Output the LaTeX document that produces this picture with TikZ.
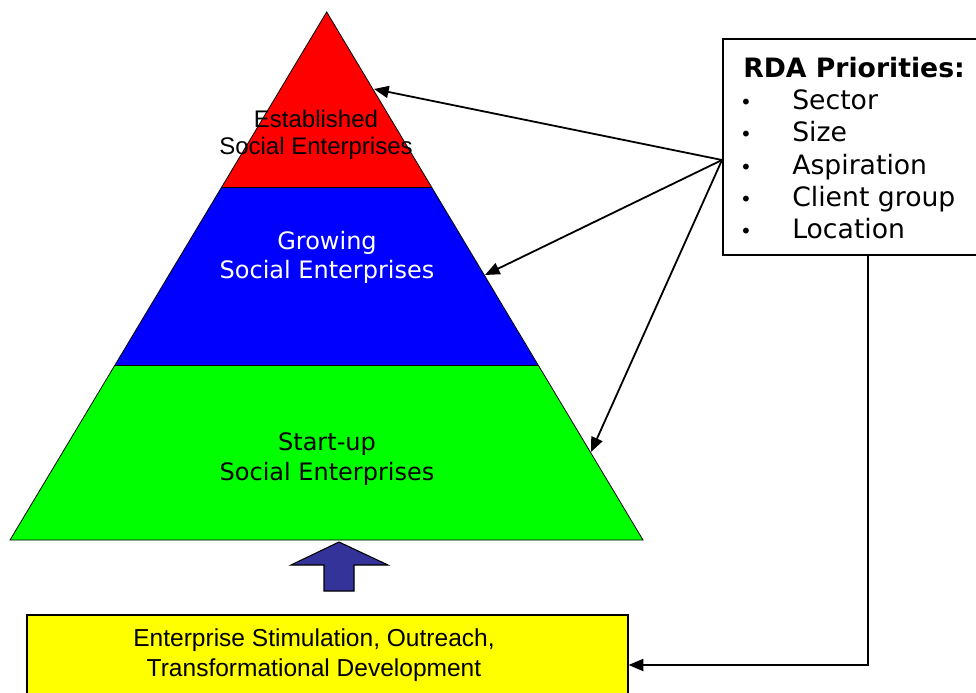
\documentclass[tikz,border=0pt]{standalone}
\usepackage{fontspec}
\setmainfont{Liberation Sans}
\newfontfamily\verd{DejaVu Sans}
\usetikzlibrary{arrows.meta}

\definecolor{tierred}{RGB}{255,0,0}
\definecolor{tierblue}{RGB}{0,0,255}
\definecolor{tiergreen}{RGB}{0,255,0}
\definecolor{pushblue}{RGB}{51,51,153}
\definecolor{stimyellow}{RGB}{255,255,0}

\tikzset{
  tier/.style={draw=black, line width=0.6pt, line join=miter},
  link/.style={draw=black, line width=1.35pt, -{Triangle[length=11pt,width=9pt]}},
  panel/.style={draw=black, line width=1.2pt, inner sep=0pt, anchor=north west},
  arialtext/.style={align=center, inner sep=0pt, font=\fontsize{18}{20.5}\selectfont},
  verdtext/.style={align=center, inner sep=0pt, font=\verd\fontsize{18}{22}\selectfont},
  listtext/.style={anchor=base west, inner sep=0pt, font=\verd\fontsize{20}{24}\selectfont},
  bullettext/.style={anchor=base, inner sep=0pt, font=\verd\fontsize{15}{18}\selectfont}
}

\begin{document}
\begin{tikzpicture}[x=0.75pt, y=-0.75pt]
\useasboundingbox (0,0) rectangle (976,693);
\clip (0,0) rectangle (976,693);

% pyramid corners and tier boundaries
\coordinate (apex) at (326.7,12);
\coordinate (bl) at (10,540);
\coordinate (br) at (643,540);
\coordinate (l1) at (221.7,187);
\coordinate (r1) at (431.5,187);
\coordinate (l2) at (115,365);
\coordinate (r2) at (537.9,365);

% tiers
\fill[tiergreen] (l2) -- (r2) -- (br) -- (bl) -- cycle;
\fill[tierblue] (l1) -- (r1) -- (r2) -- (l2) -- cycle;
\fill[tierred] (apex) -- (r1) -- (l1) -- cycle;
\draw[tier] (apex) -- (br) -- (bl) -- cycle;
\draw[tier] (l1) -- (r1);
\draw[tier] (l2) -- (r2);

% tier labels
\node[arialtext] (established) at (316,135) {Established\\Social Enterprises};
\node[verdtext, text=white] (growing) at (327,257.5) {Growing\\Social Enterprises};
\node[verdtext, text=black] (startup) at (327,459) {Start-up\\Social Enterprises};

% block arrow pushing up into the base
\draw[fill=pushblue, draw=black, line width=0.8pt, line join=miter]
  (339,542) -- (388,565) -- (354,565) -- (354,591) -- (324,591) -- (324,565) -- (291,565) -- cycle;

% stimulation box
\node[panel, fill=stimyellow, minimum width=450.75pt, minimum height=79.5pt] (stim) at (26,614) {};
\node[inner sep=0pt, align=center, font=\fontsize{18.4}{23}\selectfont] (stimtext) at (314,655)
  {Enterprise Stimulation, Outreach,\\Transformational Development};

% priorities box
\node[panel, fill=white, minimum width=225pt, minimum height=162pt] (rda) at (722,38) {};
\node[listtext, font=\verd\bfseries\fontsize{20}{24}\selectfont] (rdahead) at (743,77.5) {RDA Priorities:};
\foreach \txt [count=\i] in {Sector,Size,Aspiration,Client group,Location} {
  \pgfmathsetmacro{\yb}{77.5+32.2*\i}
  \node[bullettext] (bul\i) at (746,\yb) {•};
  \node[listtext] (item\i) at (792,\yb) {\txt};
}

% priority links into the tiers
\coordinate (src) at (722,160);
\coordinate (t1) at (374,89);
\coordinate (t2) at (485,275);
\coordinate (t3) at (591,452);
\draw[link] (src) -- (t1);
\draw[link] (src) -- (t2);
\draw[link] (src) -- (t3);

% feedback from priorities to stimulation
\coordinate (bend) at (868,665);
\draw[link, line join=miter] (rda.south -| bend) -- (bend) -- (stim.east |- bend);
\end{tikzpicture}
\end{document}
